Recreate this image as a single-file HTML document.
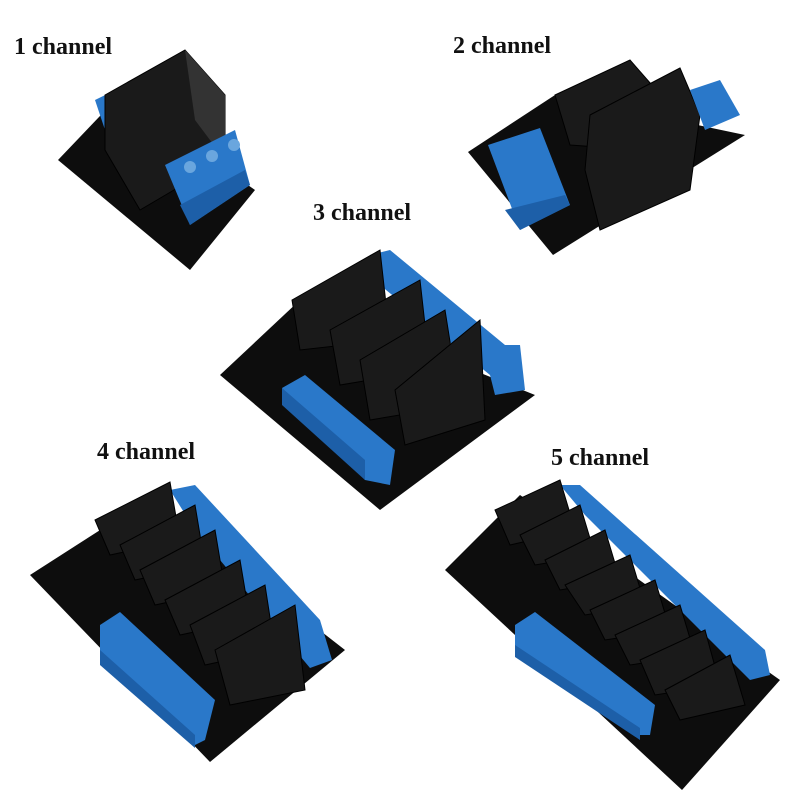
<!DOCTYPE html>
<html><head><meta charset="utf-8"><style>
html,body{margin:0;padding:0;background:#fff;width:800px;height:800px;overflow:hidden}
svg{display:block}
text{font-family:"Liberation Serif",serif;font-weight:bold;font-size:24px;fill:#111}
.b{fill:#0d0d0d}.r{fill:#1a1a1a;stroke:#000}.t{fill:#2a78c9}.td{fill:#1d5fa8}
</style></head><body>
<svg width="800" height="800" viewBox="0 0 800 800">
<text x="14" y="54">1 channel</text>
<text x="453" y="53">2 channel</text>
<text x="313" y="220">3 channel</text>
<text x="97" y="459">4 channel</text>
<text x="551" y="465">5 channel</text>

<!-- board 1 -->
<polygon class="b" points="58,160 120,95 255,190 190,270"/>
<polygon class="t" points="95,100 140,78 150,110 105,130"/>
<polygon class="r" points="105,95 185,50 225,95 225,160 140,210 105,150"/>
<polygon fill="#333" points="185,50 225,95 225,160 195,120"/>
<polygon class="t" points="165,165 235,130 250,185 190,225"/>
<polygon class="td" points="180,205 245,170 250,185 190,225"/>
<circle cx="190" cy="167" r="6" fill="#6aa6de"/><circle cx="212" cy="156" r="6" fill="#6aa6de"/><circle cx="234" cy="145" r="6" fill="#6aa6de"/>

<!-- board 2 -->
<polygon class="b" points="468,152 555,95 745,135 553,255"/>
<polygon class="r" points="555,95 630,60 665,100 640,150 570,145"/>
<polygon class="r" points="590,115 680,68 700,115 690,190 600,230 585,170"/>
<polygon class="t" points="690,90 720,80 740,115 705,130"/>
<polygon class="t" points="488,145 540,128 570,205 520,230"/>
<polygon class="td" points="505,210 565,195 570,205 520,230"/>

<!-- board 3 -->
<polygon class="b" points="220,375 300,300 535,395 380,510"/>
<polygon class="t" points="370,255 390,250 505,345 520,345 525,390 495,395 490,375 380,285"/>
<polygon class="r" points="292,300 380,250 390,340 300,350"/>
<polygon class="r" points="330,330 420,280 430,370 340,385"/>
<polygon class="r" points="360,360 445,310 460,405 370,420"/>
<polygon class="r" points="395,390 480,320 485,420 405,445"/>
<polygon class="t" points="282,388 305,375 395,450 390,485 365,480"/>
<polygon class="td" points="282,388 282,405 365,480 365,460"/>

<!-- board 4 -->
<polygon class="b" points="30,575 150,498 345,650 210,762"/>
<polygon class="t" points="170,490 195,485 320,620 332,660 310,668 195,530"/>
<polygon class="r" points="95,520 170,482 180,540 110,555"/>
<polygon class="r" points="120,545 195,505 205,565 135,580"/>
<polygon class="r" points="140,570 215,530 225,590 155,605"/>
<polygon class="r" points="165,600 240,560 250,620 180,635"/>
<polygon class="r" points="190,625 265,585 275,650 205,665"/>
<polygon class="r" points="215,650 295,605 305,690 230,705"/>
<polygon class="t" points="100,625 120,612 215,700 205,740 195,745 100,660"/>
<polygon class="td" points="100,650 195,735 195,748 100,665"/>

<!-- board 5 -->
<polygon class="b" points="445,570 520,495 780,680 682,790"/>
<polygon class="t" points="560,485 580,485 765,650 770,675 750,680 585,515"/>
<polygon class="r" points="495,510 560,480 575,530 510,545"/>
<polygon class="r" points="520,535 580,505 595,555 535,565"/>
<polygon class="r" points="545,560 605,530 620,580 560,590"/>
<polygon class="r" points="565,585 630,555 645,605 585,615"/>
<polygon class="r" points="590,610 655,580 670,630 605,640"/>
<polygon class="r" points="615,635 680,605 695,655 630,665"/>
<polygon class="r" points="640,660 705,630 720,685 655,695"/>
<polygon class="r" points="665,690 730,655 745,705 680,720"/>
<polygon class="t" points="515,625 535,612 655,705 650,735 640,735 515,650"/>
<polygon class="td" points="515,645 640,728 640,740 515,657"/>
</svg>
</body></html>
